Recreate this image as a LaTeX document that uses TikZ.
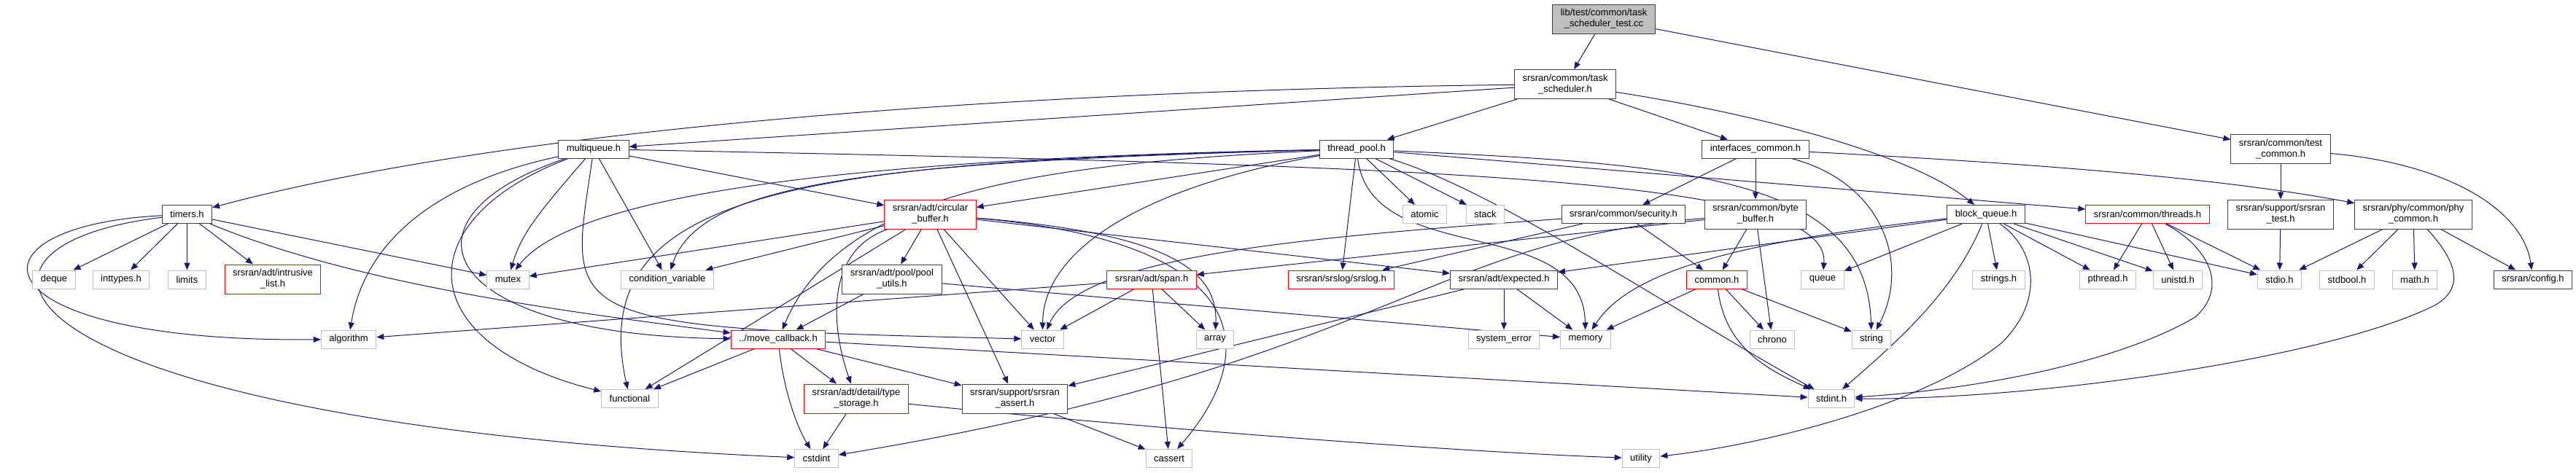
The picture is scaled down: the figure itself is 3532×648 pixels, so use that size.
\documentclass[tikz,border=0pt]{standalone}
\usepackage{fontspec}
\setmainfont{Liberation Sans}
\usetikzlibrary{arrows.meta,backgrounds}
\definecolor{edgeblue}{HTML}{191970}
\definecolor{sysgray}{HTML}{BFBFBF}
\definecolor{docgray}{HTML}{404040}

\begin{document}
\begin{tikzpicture}[x=1pt, y=-1pt,
    every node/.style={font=\fontsize{13}{15}\selectfont, inner sep=0pt, inner xsep=11pt,
                       minimum height=25pt, align=center, line width=1pt},
    docbox/.style={draw=docgray, fill=white},
    sysbox/.style={draw=sysgray, fill=white},
    cutbox/.style={draw=red, fill=white},
    rootbox/.style={draw=docgray, fill=sysgray},
    twol/.style={minimum height=40pt},
    inc/.style={draw=edgeblue, line width=1pt, -{Triangle[length=10pt,width=8pt]}}
]
  \useasboundingbox (0,0) rectangle (3532,648);

  % top of the graph
  \node[rootbox, twol] (root) at (2199,26) {lib/test/common/task\\\_scheduler\_test.cc};
  \node[docbox, twol] (tsched) at (2146,115.5) {srsran/common/task\\\_scheduler.h};
  \node[docbox] (mqueue) at (814,204.5) {multiqueue.h};
  \node[docbox] (tpool) at (1860,204.5) {thread\_pool.h};
  \node[docbox] (ifcommon) at (2407,204.5) {interfaces\_common.h};
  \node[docbox, twol] (tcommon) at (3127,204.5) {srsran/common/test\\\_common.h};

  % third row
  \node[docbox] (timers) at (256.5,294) {timers.h};
  \node[cutbox, twol] (cbuf) at (1275.5,294) {srsran/adt/circular\\\_buffer.h};
  \node[sysbox] (atomic) at (1953.5,294) {atomic};
  \node[sysbox] (stack) at (2036.5,294) {stack};
  \node[docbox] (security) at (2226,294) {srsran/common/security.h};
  \node[docbox, twol] (bytebuf) at (2407,294) {srsran/common/byte\\\_buffer.h};
  \node[docbox] (bqueue) at (2723,294) {block\_queue.h};
  \node[cutbox] (threads) at (2944.5,294) {srsran/common/threads.h};
  \node[docbox, twol] (stest) at (3127,294) {srsran/support/srsran\\\_test.h};
  \node[docbox, twol] (phycom) at (3309,294) {srsran/phy/common/phy\\\_common.h};

  % fourth row
  \node[sysbox] (deque) at (74,383.5) {deque};
  \node[sysbox] (inttypes) at (166,383.5) {inttypes.h};
  \node[sysbox] (limits) at (256.5,383.5) {limits};
  \node[cutbox, twol] (ilist) at (374,383) {srsran/adt/intrusive\\\_list.h};
  \node[sysbox] (mutex) at (696.5,383.5) {mutex};
  \node[sysbox] (condvar) at (915,383.5) {condition\_variable};
  \node[docbox, twol] (poolutil) at (1223,383) {srsran/adt/pool/pool\\\_utils.h};
  \node[cutbox] (span) at (1579,383.5) {srsran/adt/span.h};
  \node[cutbox] (srslog) at (1839,383.5) {srsran/srslog/srslog.h};
  \node[docbox] (expected) at (2062,383.5) {srsran/adt/expected.h};
  \node[cutbox] (common) at (2354,383.5) {common.h};
  \node[sysbox] (queue) at (2499,383.5) {queue};
  \node[sysbox] (stringsh) at (2740.5,383.5) {strings.h};
  \node[sysbox] (pthread) at (2890,383.5) {pthread.h};
  \node[sysbox] (unistd) at (2986,383.5) {unistd.h};
  \node[sysbox] (stdio) at (3125.5,383.5) {stdio.h};
  \node[sysbox] (stdbool) at (3218,383.5) {stdbool.h};
  \node[sysbox] (math) at (3311,383.5) {math.h};
  \node[docbox] (config) at (3473,383.5) {srsran/config.h};

  % fifth row
  \node[sysbox] (algorithm) at (478,465.5) {algorithm};
  \node[cutbox] (movecb) at (1067,465.5) {../move\_callback.h};
  \node[sysbox] (vector) at (1429.5,465.5) {vector};
  \node[sysbox] (array) at (1666,465.5) {array};
  \node[sysbox] (syserr) at (2062,465.5) {system\_error};
  \node[sysbox] (memory) at (2174,465.5) {memory};
  \node[sysbox] (chrono) at (2430,465.5) {chrono};
  \node[sysbox] (string) at (2566,465.5) {string};

  % bottom rows
  \node[sysbox] (functional) at (863.5,547) {functional};
  \node[cutbox, twol] (tstorage) at (1174,547) {srsran/adt/detail/type\\\_storage.h};
  \node[docbox, twol] (sassert) at (1391.5,547) {srsran/support/srsran\\\_assert.h};
  \node[sysbox] (stdint) at (2511,547) {stdint.h};
  \node[sysbox] (cstdint) at (1119.5,629) {cstdint};
  \node[sysbox] (cassert) at (1603,629) {cassert};
  \node[sysbox] (utility) at (2250,629) {utility};

  \begin{scope}[on background layer]
    % root and task scheduler
    \draw[inc] (root) -- (tsched);
    \draw[inc] (root) -- (tcommon);
    \draw[inc] (tsched) .. controls (1400,124) and (700,175) .. (timers);
    \draw[inc] (tsched) -- (mqueue);
    \draw[inc] (tsched) -- (tpool);
    \draw[inc] (tsched) -- (ifcommon);
    \draw[inc] (tsched) .. controls (2400,155) and (2620,210) .. (bqueue);
    \draw[inc] (tcommon) -- (stest);
    \draw[inc] (tcommon) .. controls (3360,225) and (3460,290) .. (config);

    % multiqueue
    \draw[inc] (mqueue) .. controls (600,250) and (500,330) .. (algorithm);
    \draw[inc] (mqueue) .. controls (560,300) and (560,470) .. (functional);
    \draw[inc] (mqueue) .. controls (530,300) and (600,460) .. (movecb);
    \draw[inc] (mqueue) .. controls (740,290) and (715,320) .. (mutex);
    \draw[inc] (mqueue) -- (condvar);
    \draw[inc] (mqueue) -- (cbuf);
    \draw[inc] (mqueue) .. controls (780,440) and (750,450) .. (vector);
    \draw[inc] (mqueue) .. controls (2000,228) and (2510,245) .. (queue);

    % timers
    \draw[inc] (timers) -- (deque);
    \draw[inc] (timers) -- (inttypes);
    \draw[inc] (timers) -- (limits);
    \draw[inc] (timers) -- (ilist);
    \draw[inc] (timers) -- (mutex);
    \draw[inc] (timers) .. controls (500,395) and (800,430) .. (movecb);
    \draw[inc] (timers) .. controls (-60,310) and (-40,470) .. (algorithm);
    \draw[inc] (timers) .. controls (-120,340) and (0,580) .. (cstdint);

    % circular buffer
    \draw[inc] (cbuf) -- (mutex);
    \draw[inc] (cbuf) -- (condvar);
    \draw[inc] (cbuf) -- (functional);
    \draw[inc] (cbuf) .. controls (1130,345) and (1140,450) .. (tstorage);
    \draw[inc] (cbuf) -- (poolutil);
    \draw[inc] (cbuf) -- (sassert);
    \draw[inc] (cbuf) -- (vector);
    \draw[inc] (cbuf) .. controls (1600,320) and (1670,370) .. (array);
    \draw[inc] (cbuf) .. controls (1700,330) and (1740,470) .. (cassert);
    \draw[inc] (cbuf) -- (expected);

    % thread pool
    \draw[inc] (tpool) .. controls (1300,215) and (800,250) .. (mutex);
    \draw[inc] (tpool) .. controls (1200,222) and (960,250) .. (condvar);
    \draw[inc] (tpool) .. controls (1100,222) and (800,260) .. (functional);
    \draw[inc] (tpool) .. controls (1400,225) and (1150,270) .. (movecb);
    \draw[inc] (tpool) -- (cbuf);
    \draw[inc] (tpool) .. controls (1550,260) and (1430,350) .. (vector);
    \draw[inc] (tpool) -- (srslog);
    \draw[inc] (tpool) -- (atomic);
    \draw[inc] (tpool) -- (stack);
    \draw[inc] (tpool) .. controls (1880,370) and (2170,290) .. (memory);
    \draw[inc] (tpool) .. controls (2050,260) and (2300,430) .. (stdint);
    \draw[inc] (tpool) -- (threads);
    \draw[inc] (tpool) .. controls (2300,225) and (2560,240) .. (string);

    % interfaces common
    \draw[inc] (ifcommon) -- (security);
    \draw[inc] (ifcommon) -- (bytebuf);
    \draw[inc] (ifcommon) .. controls (2580,250) and (2620,360) .. (string);
    \draw[inc] (ifcommon) .. controls (2800,225) and (3050,245) .. (phycom);

    % security and byte buffer
    \draw[inc] (security) .. controls (1800,325) and (1480,350) .. (vector);
    \draw[inc] (security) -- (srslog);
    \draw[inc] (security) -- (common);
    \draw[inc] (bytebuf) -- (common);
    \draw[inc] (bytebuf) -- (chrono);
    \draw[inc] (bytebuf) -- (span);
    \draw[inc] (bytebuf) .. controls (1950,330) and (1900,500) .. (cstdint);

    % block queue
    \draw[inc] (bqueue) -- (expected);
    \draw[inc] (bqueue) .. controls (2350,335) and (2230,380) .. (memory);
    \draw[inc] (bqueue) -- (queue);
    \draw[inc] (bqueue) .. controls (2680,400) and (2600,470) .. (stdint);
    \draw[inc] (bqueue) -- (stringsh);
    \draw[inc] (bqueue) .. controls (2790,340) and (2805,410) .. (2745,470)
                        .. controls (2640,555) and (2420,610) .. (utility);
    \draw[inc] (bqueue) -- (pthread);
    \draw[inc] (bqueue) -- (unistd);
    \draw[inc] (bqueue) -- (stdio);

    % threads, test and phy common
    \draw[inc] (threads) -- (pthread);
    \draw[inc] (threads) -- (unistd);
    \draw[inc] (threads) -- (stdio);
    \draw[inc] (threads) .. controls (3030,340) and (3055,395) .. (3010,435)
                         .. controls (2900,500) and (2700,535) .. (stdint);
    \draw[inc] (stest) -- (stdio);
    \draw[inc] (phycom) -- (stdio);
    \draw[inc] (phycom) -- (stdbool);
    \draw[inc] (phycom) -- (math);
    \draw[inc] (phycom) -- (config);
    \draw[inc] (phycom) .. controls (3370,360) and (3378,395) .. (3340,418)
                        .. controls (3200,490) and (2800,548) .. (stdint);

    % expected and common
    \draw[inc] (expected) -- (syserr);
    \draw[inc] (expected) -- (memory);
    \draw[inc] (expected) -- (sassert);
    \draw[inc] (common) -- (memory);
    \draw[inc] (common) -- (chrono);
    \draw[inc] (common) -- (string);
    \draw[inc] (common) .. controls (2365,480) and (2430,510) .. (stdint);

    % span and pool utils
    \draw[inc] (span) -- (vector);
    \draw[inc] (span) -- (array);
    \draw[inc] (span) -- (cassert);
    \draw[inc] (span) -- (algorithm);
    \draw[inc] (poolutil) -- (movecb);
    \draw[inc] (poolutil) -- (memory);

    % move callback and below
    \draw[inc] (movecb) -- (functional);
    \draw[inc] (movecb) .. controls (1075,540) and (1095,590) .. (cstdint);
    \draw[inc] (movecb) -- (tstorage);
    \draw[inc] (movecb) -- (sassert);
    \draw[inc] (movecb) -- (stdint);
    \draw[inc] (tstorage) -- (cstdint);
    \draw[inc] (tstorage) .. controls (1600,590) and (2000,620) .. (utility);
    \draw[inc] (sassert) -- (cassert);
  \end{scope}
\end{tikzpicture}
\end{document}
